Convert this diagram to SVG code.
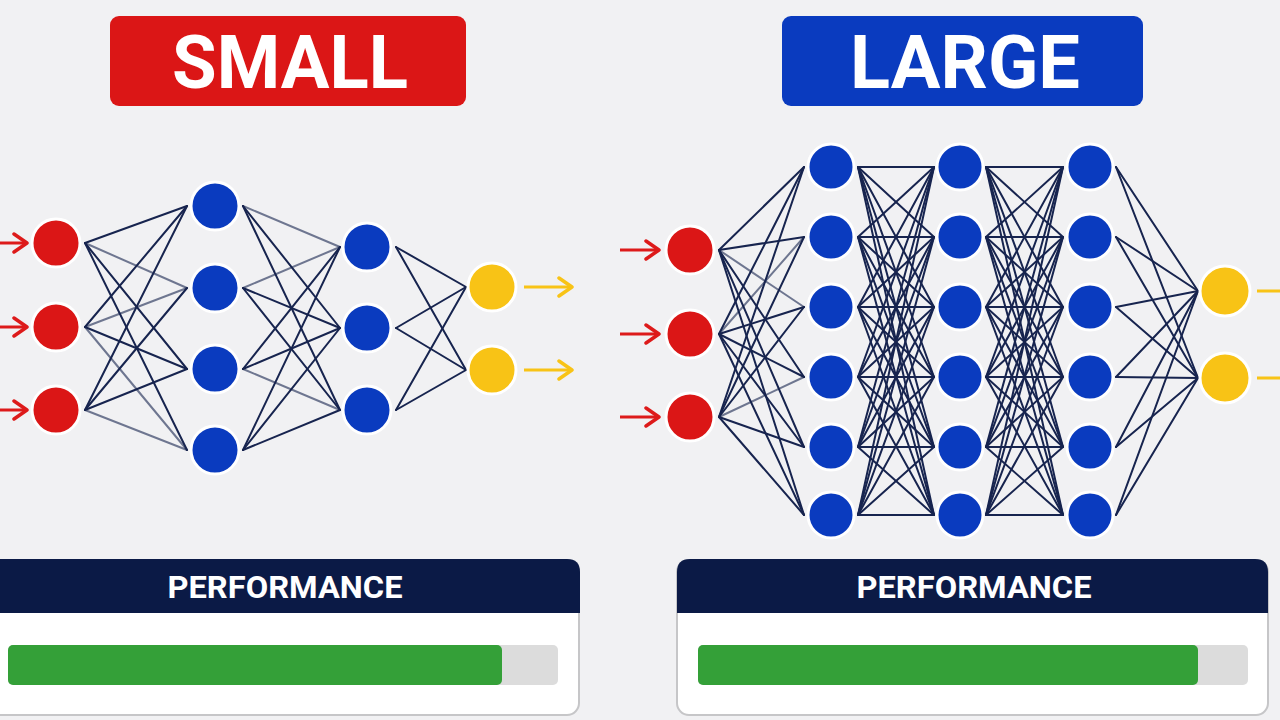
<svg xmlns="http://www.w3.org/2000/svg" width="1280" height="720" viewBox="0 0 1280 720">
<style>
.bg{fill:#f1f1f3}
.title{font-family:Roboto,"Liberation Sans",sans-serif;font-weight:bold;font-size:74px;fill:#ffffff}
.perf{font-family:Roboto,"Liberation Sans",sans-serif;font-weight:bold;font-size:31px;fill:#ffffff}
.in{fill:#db1616;stroke:#ffffff;stroke-width:3}
.hid{fill:#0a3bbf;stroke:#ffffff;stroke-width:3}
.out{fill:#f8c316;stroke:#ffffff;stroke-width:3}
.edges line{stroke:#17244f;stroke-width:2;stroke-linecap:round}
.edges line.f{stroke-opacity:0.6}
.arr-r{stroke:#dd1a1a;stroke-width:3;fill:none;marker-end:url(#ah-r)}
.arr-y{stroke:#f8c316;stroke-width:3;fill:none;marker-end:url(#ah-y)}
.panel{fill:#ffffff;stroke:#c6c6c8;stroke-width:2}
.head{fill:#0b1a46}
.track{fill:#dcdcdc}
.fill{fill:#34a038}
</style>
<defs>
<marker id="ah-r" viewBox="-17 -13 19 26" refX="0" refY="0" markerWidth="19" markerHeight="26" markerUnits="userSpaceOnUse" orient="auto">
<path d="M-13,-9 L0,0 L-13,9" fill="none" stroke="#dd1a1a" stroke-width="3.5" stroke-linecap="round" stroke-linejoin="round"/>
</marker>
<marker id="ah-y" viewBox="-17 -13 19 26" refX="0" refY="0" markerWidth="19" markerHeight="26" markerUnits="userSpaceOnUse" orient="auto">
<path d="M-13,-9 L0,0 L-13,9" fill="none" stroke="#f8c316" stroke-width="3.5" stroke-linecap="round" stroke-linejoin="round"/>
</marker>
</defs>
<rect class="bg" x="0" y="0" width="1280" height="720"/>

<g id="title-small">
<rect x="110" y="16" width="356" height="90" rx="9" fill="#db1616"/>
<text class="title" x="290" y="88" text-anchor="middle" textLength="236" lengthAdjust="spacingAndGlyphs">SMALL</text>
</g>
<g id="title-large">
<rect x="782" y="16" width="361" height="90" rx="9" fill="#0a3bbf"/>
<text class="title" x="965" y="88" text-anchor="middle" textLength="230" lengthAdjust="spacingAndGlyphs">LARGE</text>
</g>

<g id="connectors" class="edges">
<!-- small: input -> hidden1 -->
<line x1="85" y1="243" x2="187" y2="206"/><line x1="85" y1="243" x2="187" y2="288" class="f"/><line x1="85" y1="243" x2="187" y2="369"/><line x1="85" y1="243" x2="187" y2="450"/>
<line x1="85" y1="327" x2="187" y2="206"/><line x1="85" y1="327" x2="187" y2="288" class="f"/><line x1="85" y1="327" x2="187" y2="369"/><line x1="85" y1="327" x2="187" y2="450" class="f"/>
<line x1="85" y1="410" x2="187" y2="206"/><line x1="85" y1="410" x2="187" y2="288"/><line x1="85" y1="410" x2="187" y2="369"/><line x1="85" y1="410" x2="187" y2="450" class="f"/>
<!-- small: hidden1 -> hidden2 -->
<line x1="243" y1="206" x2="340" y2="247" class="f"/><line x1="243" y1="206" x2="340" y2="328"/><line x1="243" y1="206" x2="340" y2="410"/>
<line x1="243" y1="288" x2="340" y2="247" class="f"/><line x1="243" y1="288" x2="340" y2="328"/><line x1="243" y1="288" x2="340" y2="410"/>
<line x1="243" y1="369" x2="340" y2="247"/><line x1="243" y1="369" x2="340" y2="328"/><line x1="243" y1="369" x2="340" y2="410" class="f"/>
<line x1="243" y1="450" x2="340" y2="247"/><line x1="243" y1="450" x2="340" y2="328"/><line x1="243" y1="450" x2="340" y2="410"/>
<!-- small: hidden2 -> output -->
<line x1="396" y1="247" x2="466" y2="287"/><line x1="396" y1="247" x2="466" y2="370"/>
<line x1="396" y1="328" x2="466" y2="287"/><line x1="396" y1="328" x2="466" y2="370"/>
<line x1="396" y1="410" x2="466" y2="287"/><line x1="396" y1="410" x2="466" y2="370"/>

<!-- large: input -> hidden1 -->
<line x1="719" y1="250" x2="804" y2="167"/><line x1="719" y1="250" x2="804" y2="237"/><line x1="719" y1="250" x2="804" y2="307" class="f"/><line x1="719" y1="250" x2="804" y2="377"/><line x1="719" y1="250" x2="804" y2="447"/><line x1="719" y1="250" x2="804" y2="515"/>
<line x1="719" y1="334" x2="804" y2="167"/><line x1="719" y1="334" x2="804" y2="237" class="f"/><line x1="719" y1="334" x2="804" y2="307"/><line x1="719" y1="334" x2="804" y2="377"/><line x1="719" y1="334" x2="804" y2="447"/><line x1="719" y1="334" x2="804" y2="515"/>
<line x1="719" y1="417" x2="804" y2="167"/><line x1="719" y1="417" x2="804" y2="237"/><line x1="719" y1="417" x2="804" y2="307"/><line x1="719" y1="417" x2="804" y2="377" class="f"/><line x1="719" y1="417" x2="804" y2="447"/><line x1="719" y1="417" x2="804" y2="515"/>
<!-- large: hidden1 -> hidden2 -->
<line x1="858" y1="167" x2="934" y2="167"/><line x1="858" y1="167" x2="934" y2="237"/><line x1="858" y1="167" x2="934" y2="307"/><line x1="858" y1="167" x2="934" y2="377"/><line x1="858" y1="167" x2="934" y2="447"/><line x1="858" y1="167" x2="934" y2="515"/>
<line x1="858" y1="237" x2="934" y2="167"/><line x1="858" y1="237" x2="934" y2="237"/><line x1="858" y1="237" x2="934" y2="307"/><line x1="858" y1="237" x2="934" y2="377"/><line x1="858" y1="237" x2="934" y2="447"/><line x1="858" y1="237" x2="934" y2="515"/>
<line x1="858" y1="307" x2="934" y2="167"/><line x1="858" y1="307" x2="934" y2="237"/><line x1="858" y1="307" x2="934" y2="307"/><line x1="858" y1="307" x2="934" y2="377"/><line x1="858" y1="307" x2="934" y2="447"/><line x1="858" y1="307" x2="934" y2="515"/>
<line x1="858" y1="377" x2="934" y2="167"/><line x1="858" y1="377" x2="934" y2="237"/><line x1="858" y1="377" x2="934" y2="307"/><line x1="858" y1="377" x2="934" y2="377"/><line x1="858" y1="377" x2="934" y2="447"/><line x1="858" y1="377" x2="934" y2="515"/>
<line x1="858" y1="447" x2="934" y2="167"/><line x1="858" y1="447" x2="934" y2="237"/><line x1="858" y1="447" x2="934" y2="307"/><line x1="858" y1="447" x2="934" y2="377"/><line x1="858" y1="447" x2="934" y2="447"/><line x1="858" y1="447" x2="934" y2="515"/>
<line x1="858" y1="515" x2="934" y2="167"/><line x1="858" y1="515" x2="934" y2="237"/><line x1="858" y1="515" x2="934" y2="307"/><line x1="858" y1="515" x2="934" y2="377"/><line x1="858" y1="515" x2="934" y2="447"/><line x1="858" y1="515" x2="934" y2="515"/>
<!-- large: hidden2 -> hidden3 -->
<line x1="986" y1="167" x2="1063" y2="167"/><line x1="986" y1="167" x2="1063" y2="237"/><line x1="986" y1="167" x2="1063" y2="307"/><line x1="986" y1="167" x2="1063" y2="377"/><line x1="986" y1="167" x2="1063" y2="447"/><line x1="986" y1="167" x2="1063" y2="515"/>
<line x1="986" y1="237" x2="1063" y2="167"/><line x1="986" y1="237" x2="1063" y2="237"/><line x1="986" y1="237" x2="1063" y2="307"/><line x1="986" y1="237" x2="1063" y2="377"/><line x1="986" y1="237" x2="1063" y2="447"/><line x1="986" y1="237" x2="1063" y2="515"/>
<line x1="986" y1="307" x2="1063" y2="167"/><line x1="986" y1="307" x2="1063" y2="237"/><line x1="986" y1="307" x2="1063" y2="307"/><line x1="986" y1="307" x2="1063" y2="377"/><line x1="986" y1="307" x2="1063" y2="447"/><line x1="986" y1="307" x2="1063" y2="515"/>
<line x1="986" y1="377" x2="1063" y2="167"/><line x1="986" y1="377" x2="1063" y2="237"/><line x1="986" y1="377" x2="1063" y2="307"/><line x1="986" y1="377" x2="1063" y2="377"/><line x1="986" y1="377" x2="1063" y2="447"/><line x1="986" y1="377" x2="1063" y2="515"/>
<line x1="986" y1="447" x2="1063" y2="167"/><line x1="986" y1="447" x2="1063" y2="237"/><line x1="986" y1="447" x2="1063" y2="307"/><line x1="986" y1="447" x2="1063" y2="377"/><line x1="986" y1="447" x2="1063" y2="447"/><line x1="986" y1="447" x2="1063" y2="515"/>
<line x1="986" y1="515" x2="1063" y2="167"/><line x1="986" y1="515" x2="1063" y2="237"/><line x1="986" y1="515" x2="1063" y2="307"/><line x1="986" y1="515" x2="1063" y2="377"/><line x1="986" y1="515" x2="1063" y2="447"/><line x1="986" y1="515" x2="1063" y2="515"/>
<!-- large: hidden3 -> output -->
<line x1="1116" y1="167" x2="1198" y2="291"/><line x1="1116" y1="167" x2="1198" y2="378"/>
<line x1="1116" y1="237" x2="1198" y2="291"/><line x1="1116" y1="237" x2="1198" y2="378"/>
<line x1="1116" y1="307" x2="1198" y2="291"/><line x1="1116" y1="307" x2="1198" y2="378"/>
<line x1="1116" y1="377" x2="1198" y2="291"/><line x1="1116" y1="377" x2="1198" y2="378"/>
<line x1="1116" y1="447" x2="1198" y2="291"/><line x1="1116" y1="447" x2="1198" y2="378"/>
<line x1="1116" y1="515" x2="1198" y2="291"/><line x1="1116" y1="515" x2="1198" y2="378"/>
</g>

<g id="io-arrows">
<line class="arr-r" x1="0" y1="243" x2="27" y2="243"/>
<line class="arr-r" x1="0" y1="327" x2="27" y2="327"/>
<line class="arr-r" x1="0" y1="410" x2="27" y2="410"/>
<line class="arr-y" x1="524" y1="287" x2="572" y2="287"/>
<line class="arr-y" x1="524" y1="370" x2="572" y2="370"/>
<line class="arr-r" x1="620" y1="250" x2="659" y2="250"/>
<line class="arr-r" x1="620" y1="334" x2="659" y2="334"/>
<line class="arr-r" x1="620" y1="417" x2="659" y2="417"/>
<line class="arr-y" x1="1257" y1="291" x2="1300" y2="291"/>
<line class="arr-y" x1="1257" y1="378" x2="1300" y2="378"/>
</g>

<g id="small-input-1"><circle class="in" cx="56" cy="243" r="24"/></g>
<g id="small-input-2"><circle class="in" cx="56" cy="327" r="24"/></g>
<g id="small-input-3"><circle class="in" cx="56" cy="410" r="24"/></g>
<g id="small-h1-1"><circle class="hid" cx="215" cy="206" r="24"/></g>
<g id="small-h1-2"><circle class="hid" cx="215" cy="288" r="24"/></g>
<g id="small-h1-3"><circle class="hid" cx="215" cy="369" r="24"/></g>
<g id="small-h1-4"><circle class="hid" cx="215" cy="450" r="24"/></g>
<g id="small-h2-1"><circle class="hid" cx="367" cy="247" r="24"/></g>
<g id="small-h2-2"><circle class="hid" cx="367" cy="328" r="24"/></g>
<g id="small-h2-3"><circle class="hid" cx="367" cy="410" r="24"/></g>
<g id="small-out-1"><circle class="out" cx="492" cy="287" r="24"/></g>
<g id="small-out-2"><circle class="out" cx="492" cy="370" r="24"/></g>

<g id="large-input-1"><circle class="in" cx="690" cy="250" r="24"/></g>
<g id="large-input-2"><circle class="in" cx="690" cy="334" r="24"/></g>
<g id="large-input-3"><circle class="in" cx="690" cy="417" r="24"/></g>
<g id="large-h1-1"><circle class="hid" cx="831" cy="167" r="23"/></g>
<g id="large-h1-2"><circle class="hid" cx="831" cy="237" r="23"/></g>
<g id="large-h1-3"><circle class="hid" cx="831" cy="307" r="23"/></g>
<g id="large-h1-4"><circle class="hid" cx="831" cy="377" r="23"/></g>
<g id="large-h1-5"><circle class="hid" cx="831" cy="447" r="23"/></g>
<g id="large-h1-6"><circle class="hid" cx="831" cy="515" r="23"/></g>
<g id="large-h2-1"><circle class="hid" cx="960" cy="167" r="23"/></g>
<g id="large-h2-2"><circle class="hid" cx="960" cy="237" r="23"/></g>
<g id="large-h2-3"><circle class="hid" cx="960" cy="307" r="23"/></g>
<g id="large-h2-4"><circle class="hid" cx="960" cy="377" r="23"/></g>
<g id="large-h2-5"><circle class="hid" cx="960" cy="447" r="23"/></g>
<g id="large-h2-6"><circle class="hid" cx="960" cy="515" r="23"/></g>
<g id="large-h3-1"><circle class="hid" cx="1090" cy="167" r="23"/></g>
<g id="large-h3-2"><circle class="hid" cx="1090" cy="237" r="23"/></g>
<g id="large-h3-3"><circle class="hid" cx="1090" cy="307" r="23"/></g>
<g id="large-h3-4"><circle class="hid" cx="1090" cy="377" r="23"/></g>
<g id="large-h3-5"><circle class="hid" cx="1090" cy="447" r="23"/></g>
<g id="large-h3-6"><circle class="hid" cx="1090" cy="515" r="23"/></g>
<g id="large-out-1"><circle class="out" cx="1225" cy="291" r="25"/></g>
<g id="large-out-2"><circle class="out" cx="1225" cy="378" r="25"/></g>

<g id="perf-small">
<rect class="panel" x="-20" y="560" width="599" height="155" rx="12"/>
<path class="head" d="M-20,613 V572 Q-20,559 -7,559 H567 Q580,559 580,572 V613 Z"/>
<text class="perf" x="285" y="598" text-anchor="middle" textLength="235" lengthAdjust="spacingAndGlyphs">PERFORMANCE</text>
<rect class="track" x="8" y="645" width="550" height="40" rx="5"/>
<rect class="fill" x="8" y="645" width="494" height="40" rx="5"/>
</g>
<g id="perf-large">
<rect class="panel" x="677" y="560" width="591" height="155" rx="12"/>
<path class="head" d="M677,613 V572 Q677,559 690,559 H1255 Q1268,559 1268,572 V613 Z"/>
<text class="perf" x="974" y="598" text-anchor="middle" textLength="235" lengthAdjust="spacingAndGlyphs">PERFORMANCE</text>
<rect class="track" x="698" y="645" width="550" height="40" rx="5"/>
<rect class="fill" x="698" y="645" width="500" height="40" rx="5"/>
</g>
</svg>
